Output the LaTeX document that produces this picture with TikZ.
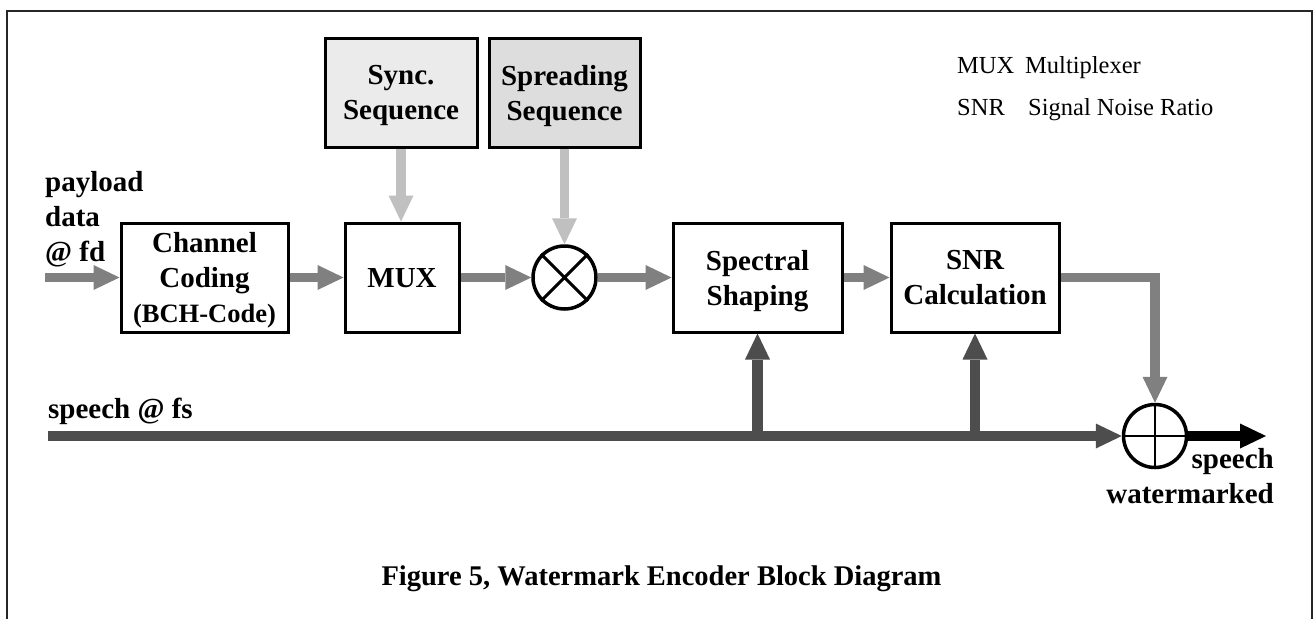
\documentclass[tikz,border=0pt]{standalone}
\usepackage{fontspec}
\setmainfont{Liberation Serif}
\usetikzlibrary{arrows.meta}
\definecolor{arrg}{HTML}{808080}
\definecolor{lightg}{HTML}{C0C0C0}
\definecolor{darkg}{HTML}{4D4D4D}
\definecolor{syncfill}{HTML}{EBEBEB}
\definecolor{spreadfill}{HTML}{DDDDDD}
\begin{document}
\begin{tikzpicture}[x=1pt,y=-1pt,
  blk/.style={draw=black, line width=3pt, inner sep=0pt, align=center, text depth=0pt,
    font=\bfseries\fontsize{29}{35}\selectfont},
  circ/.style={draw=black, circle, line width=3.5pt, minimum size=63pt, inner sep=0pt},
  tipA/.style={-{Triangle[length=26pt,width=25pt,line width=0pt]}},
  garrow/.style={draw=arrg, line width=9.5pt, tipA},
  larrow/.style={draw=lightg, line width=9.5pt, tipA},
  darrow/.style={draw=darkg, line width=10.5pt, tipA},
  karrow/.style={draw=black, line width=10pt, tipA},
  lbl/.style={inner sep=0pt, font=\bfseries\fontsize{29}{35}\selectfont},
  leg/.style={inner sep=0pt, anchor=base west, font=\fontsize{24.5}{30}\selectfont}]
\useasboundingbox (0,0) rectangle (1313,619);
\fill[white] (0,0) rectangle (1313,619);
% frame
\draw[line width=2pt, black!85] (7,619) -- (7,11) -- (1312,11) -- (1312,619);

% blocks
\node[blk, fill=syncfill, minimum width=152pt, minimum height=109pt] (sync) at (401,92.5) {Sync.\\Sequence};
\node[blk, fill=spreadfill, minimum width=151pt, minimum height=109pt] (spread) at (564.5,92.5) {Spreading\\Sequence};
\node[blk, minimum width=167pt, minimum height=109pt] (ch) at (204.5,277.5) {Channel\\Coding\\{\fontsize{26.5}{35}\selectfont (BCH-Code)}};
\node[blk, minimum width=114pt, minimum height=109pt] (mux) at (402,277.5) {MUX};
\node[circ] (mult) at (564.5,277.5) {};
\draw[line width=3pt] (mult.north west) -- (mult.south east) (mult.north east) -- (mult.south west);
\node[blk, minimum width=169pt, minimum height=109pt] (spec) at (757.5,277.5) {Spectral\\Shaping};
\node[blk, minimum width=168pt, minimum height=109pt] (snr) at (975,277.5) {SNR\\Calculation};
\node[circ] (add) at (1155,436) {};
\draw[line width=2.5pt] (add.north) -- (add.south) (add.west) -- (add.east);

% connectors
\coordinate (pin) at (45,277.5);
\draw[garrow] (pin) -- (ch.west);
\draw[garrow] (ch.east) -- (mux.west);
\draw[garrow] (mux.east) -- (mult.west);
\draw[garrow] (mult.east) -- (spec.west);
\draw[garrow] (spec.east) -- (snr.west);
\draw[larrow] (sync.south) -- (sync.south |- mux.north);
\draw[larrow] (spread.south) -- (mult.north);
\draw[garrow] (snr.east) -- (snr.east -| add.north) -- (add.north);

\coordinate (sin) at (48,436);
\draw[darrow] (sin) -- (add.west);
\coordinate (b1) at (spec.south |- sin);
\coordinate (b2) at (snr.south |- sin);
\draw[darrow] (b1) -- (spec.south);
\draw[darrow] (b2) -- (snr.south);
\coordinate (out) at (1266,436);
\draw[karrow] (add.east) -- (out);

% labels
\node[lbl, anchor=base west, align=left] (pl) at (45,261) {payload\\data\\@ fd};
\node[lbl, anchor=base west] (sp) at (48,418) {speech @ fs};
\node[lbl, anchor=base east, align=right] (sw) at (1274,503) {speech\\watermarked};
\node[leg] (l1) at (957,73) {MUX};
\node[leg] (l1b) at (1025,73) {Multiplexer};
\node[leg] (l2) at (957,115) {SNR};
\node[leg] (l2b) at (1028,115) {Signal Noise Ratio};
\node[inner sep=0pt, anchor=base, font=\bfseries\fontsize{28.5}{34}\selectfont] (cap) at (661.5,585) {Figure 5, Watermark Encoder Block Diagram};
\end{tikzpicture}
\end{document}
